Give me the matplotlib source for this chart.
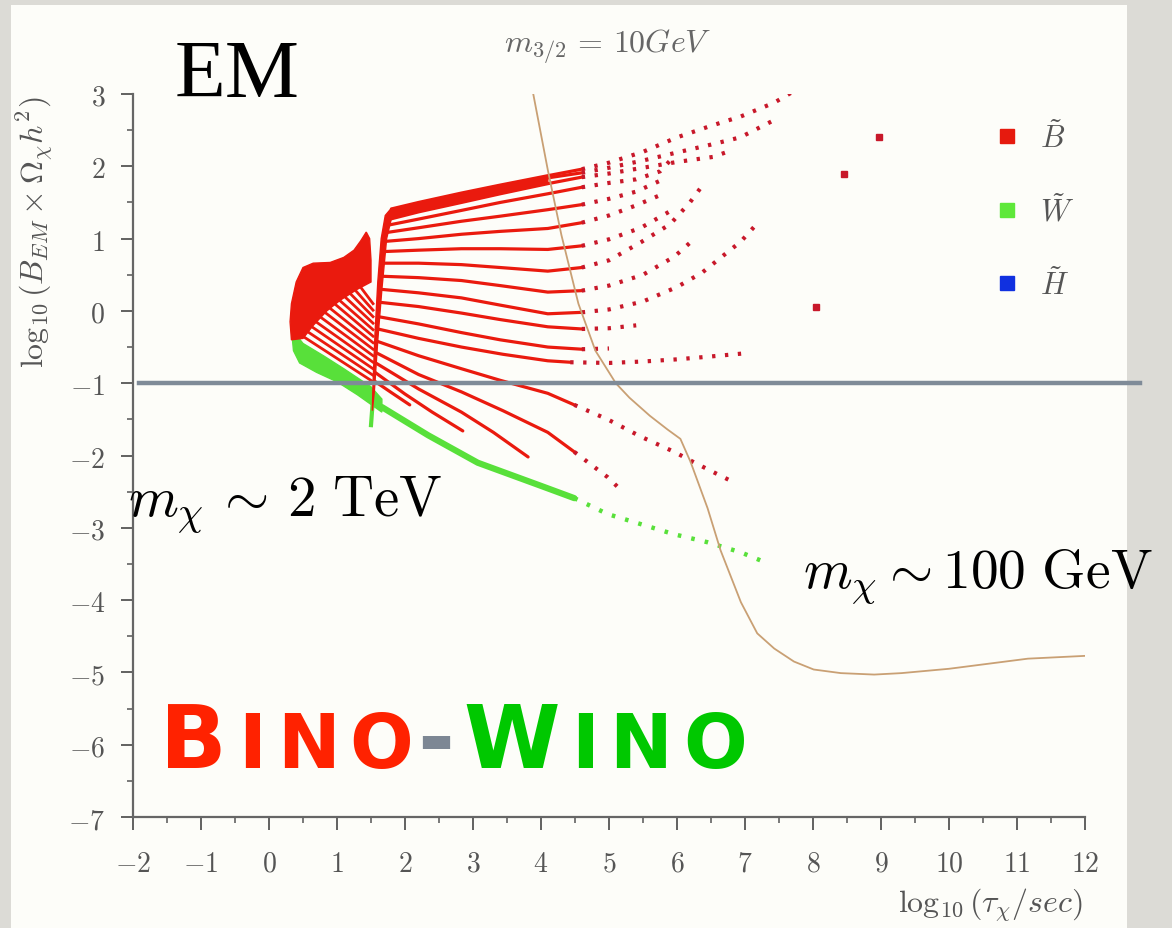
import numpy as np
import matplotlib.pyplot as plt
from matplotlib.patches import Rectangle, Polygon
from matplotlib.lines import Line2D

plt.rcParams['mathtext.fontset'] = 'cm'

# axis ticks
x_ticks = list(range(-2, 13))
y_ticks = list(range(-7, 4))
x_tick_labels = [r'$%d$' % v for v in x_ticks]
y_tick_labels = [r'$%d$' % v for v in y_ticks]

# BBN bound on the EM injection (brown curve)
bound_x = [3.88, 4.10, 4.30, 4.55, 4.80, 5.00, 5.10, 5.30, 5.60, 5.86, 6.05, 6.20, 6.45,
           6.64, 6.94, 7.18, 7.43, 7.72, 8.01, 8.41, 8.90, 9.30, 10.00, 11.16, 12.03]
bound_y = [3.03, 1.95, 1.05, 0.10, -0.55, -0.85, -1.00, -1.20, -1.45, -1.64, -1.77, -2.09, -2.73,
           -3.31, -4.03, -4.46, -4.67, -4.85, -4.96, -5.01, -5.03, -5.01, -4.95, -4.81, -4.77]

# bino-like region: low-lifetime blob and the spike at log tau ~ 1.6
blob_x = [0.33, 0.31, 0.33, 0.40, 0.50, 0.65, 0.90, 1.10, 1.25, 1.35, 1.43, 1.48, 1.50, 1.50,
          1.30, 1.05, 0.85, 0.65, 0.50]
blob_y = [-0.40, -0.15, 0.10, 0.40, 0.60, 0.66, 0.67, 0.74, 0.84, 0.97, 1.09, 1.00, 0.70, 0.40,
          0.30, 0.15, 0.00, -0.20, -0.38]
spike_x = [1.80, 1.71, 1.65, 1.60, 1.56, 1.53, 1.52, 1.55, 1.60, 1.66, 1.73, 1.82]
spike_y = [1.42, 1.32, 1.00, 0.40, -0.30, -1.00, -1.38, -1.10, -0.40, 0.30, 1.00, 1.36]

# bino tracks fanning out from the blob towards the spike
fan1_start_x = [1.25, 1.17, 1.10, 1.03, 0.96, 0.90, 0.84, 0.78, 0.72, 0.66, 0.60, 0.54, 0.48]
fan1_start_y = [0.45, 0.39, 0.33, 0.27, 0.21, 0.15, 0.08, 0.01, -0.06, -0.13, -0.20, -0.27, -0.34]
fan1_end_y = [0.10, 0.01, -0.08, -0.17, -0.26, -0.35, -0.44, -0.53, -0.62, -0.71, -0.80, -0.89, -0.98]

# bino tracks fanning out from the spike to long lifetimes
fan2_x = [
    [1.80, 2.20, 2.83, 3.40, 4.10, 4.60, 5.00, 5.50, 6.00, 6.50, 6.94, 7.43, 7.72],
    [1.77, 2.20, 2.83, 3.40, 4.10, 4.60, 5.00, 5.50, 6.04, 6.50, 6.93, 7.18, 7.41],
    [1.74, 2.20, 2.83, 3.40, 4.10, 4.60, 5.00, 5.50, 6.00, 6.53, 6.74],
    [1.72, 2.20, 2.83, 3.40, 4.10, 4.60, 5.00, 5.40, 5.75, 5.90],
    [1.70, 2.20, 2.83, 3.40, 4.10, 4.60, 5.00, 5.40, 5.75],
    [1.69, 2.20, 2.83, 3.40, 4.10, 4.60, 5.00, 5.40, 5.80],
    [1.67, 2.20, 2.83, 3.40, 4.10, 4.60, 5.00, 5.47, 5.90],
    [1.66, 2.20, 2.83, 3.40, 4.10, 4.60, 5.00, 5.47, 5.90, 6.19, 6.37],
    [1.64, 2.20, 2.83, 3.40, 4.10, 4.60, 5.00, 5.50, 5.96, 6.20],
    [1.63, 2.20, 2.83, 3.40, 4.10, 4.60, 5.00, 5.50, 6.00, 6.37, 6.74, 6.94, 7.18],
    [1.62, 2.20, 2.83, 3.40, 4.10, 4.60, 5.00, 5.40],
    [1.61, 2.20, 2.83, 3.40, 4.10, 4.60, 5.00],
    [1.60, 2.20, 2.83, 3.44, 4.10, 4.43, 5.00, 5.50, 6.00, 6.50, 6.96],
    [1.59, 2.20, 2.83, 3.40, 4.10, 4.49, 4.98, 5.47, 5.96, 6.20, 6.45, 6.79],
    [1.58, 2.20, 2.83, 3.44, 4.10, 4.49, 4.98, 5.21],
    [1.57, 2.20, 2.83, 3.30, 3.81],
    [1.56, 2.00, 2.40, 2.85],
    [1.55, 1.80, 2.07],
]
fan2_y = [
    [1.41, 1.50, 1.63, 1.74, 1.87, 1.96, 2.05, 2.20, 2.40, 2.56, 2.69, 2.88, 3.04],
    [1.34, 1.45, 1.58, 1.70, 1.84, 1.91, 1.98, 2.08, 2.20, 2.30, 2.40, 2.52, 2.63],
    [1.26, 1.37, 1.50, 1.62, 1.76, 1.85, 1.90, 1.98, 2.06, 2.13, 2.20],
    [1.18, 1.27, 1.39, 1.50, 1.62, 1.71, 1.77, 1.82, 1.93, 2.08],
    [1.08, 1.15, 1.24, 1.31, 1.40, 1.47, 1.55, 1.65, 1.80],
    [0.96, 1.00, 1.06, 1.10, 1.14, 1.22, 1.32, 1.46, 1.62],
    [0.82, 0.84, 0.86, 0.86, 0.85, 0.90, 0.99, 1.15, 1.38],
    [0.66, 0.66, 0.64, 0.60, 0.55, 0.60, 0.70, 0.95, 1.20, 1.50, 1.73],
    [0.48, 0.46, 0.42, 0.35, 0.26, 0.28, 0.35, 0.50, 0.75, 0.95],
    [0.30, 0.25, 0.18, 0.08, -0.04, -0.02, 0.02, 0.13, 0.33, 0.53, 0.81, 0.96, 1.21],
    [0.12, 0.06, -0.03, -0.12, -0.22, -0.25, -0.24, -0.20],
    [-0.08, -0.18, -0.30, -0.40, -0.50, -0.53, -0.52],
    [-0.25, -0.38, -0.50, -0.60, -0.69, -0.71, -0.72, -0.70, -0.67, -0.63, -0.59],
    [-0.42, -0.62, -0.80, -0.96, -1.14, -1.30, -1.50, -1.74, -1.95, -2.07, -2.19, -2.35],
    [-0.58, -0.88, -1.12, -1.38, -1.68, -1.95, -2.30, -2.51],
    [-0.72, -1.08, -1.40, -1.68, -2.02],
    [-0.85, -1.15, -1.40, -1.66],
    [-0.97, -1.13, -1.30],
]

# isolated bino points at very long lifetimes
far_x = [8.05, 8.46, 8.97]
far_y = [0.05, 1.90, 2.40]

# wino-like band
wino_x = [1.66, 2.34, 3.07, 4.00, 4.49, 4.98, 5.47, 5.96, 6.45, 6.94, 7.33]
wino_y = [-1.33, -1.72, -2.10, -2.42, -2.59, -2.81, -2.95, -3.09, -3.20, -3.34, -3.49]
wino_band_x = [0.33, 0.50, 0.80, 1.10, 1.50, 1.66, 1.66, 1.30, 1.00, 0.70, 0.45, 0.36]
wino_band_y = [-0.25, -0.45, -0.62, -0.80, -1.05, -1.22, -1.40, -1.16, -0.98, -0.85, -0.72, -0.55]
wino_spike_x = [1.53, 1.50]
wino_spike_y = [-1.20, -1.58]

legend_labels = [r'$\tilde{B}$', r'$\tilde{W}$', r'$\tilde{H}$']
legend_colors = ['#e61a0e', '#5ee83a', '#1030e0']

RED = '#ea1a0e'
DOT_RED = '#c8182a'
GREEN = '#58e03a'
GRAY_TXT = '#555555'
SPLIT_X = 4.6
DOTS = (0, (0.8, 2.3))

fig = plt.figure(figsize=(11.72, 9.29), dpi=100, facecolor='#dcdbd6')
# slide panel behind the plot
fig.patches.append(Rectangle((11 / 1172, 0), (1127 - 11) / 1172, (929 - 6) / 929,
                             transform=fig.transFigure, facecolor='#fdfdf9',
                             edgecolor='none', zorder=-10))

ax = fig.add_axes([133 / 1172, 1 - 818 / 929, 952 / 1172, 723 / 929])
ax.set_facecolor('none')
ax.set_xlim(-2, 12)
ax.set_ylim(-7, 3)

# filled bino regions
for px, py in [(blob_x, blob_y), (spike_x, spike_y)]:
    ax.add_patch(Polygon(np.column_stack([px, py]), closed=True, facecolor=RED,
                         edgecolor=RED, lw=1, zorder=3))

# dense top of the spike fan: between the first and third track
top = np.array(fan2_x[0][:5]), np.array(fan2_y[0][:5])
low = np.array(fan2_x[2][:5]), np.array(fan2_y[2][:5])
wedge = np.column_stack([np.r_[top[0], low[0][::-1]], np.r_[top[1], low[1][::-1]]])
ax.add_patch(Polygon(wedge, closed=True, facecolor=RED, edgecolor=RED, lw=1, zorder=3))

for x0, y0, y1 in zip(fan1_start_x, fan1_start_y, fan1_end_y):
    ax.plot([x0, 1.53], [y0, y1], color=RED, lw=2.0, zorder=3)

# dense part of each track is solid, the sparse tail is dotted
for xs, ys in zip(fan2_x, fan2_y):
    xs = np.array(xs)
    ys = np.array(ys)
    k = np.where(xs <= SPLIT_X)[0][-1]
    ax.plot(xs[:k + 1], ys[:k + 1], color=RED, lw=2.3, zorder=3, solid_capstyle='round',
            solid_joinstyle='round')
    if k < len(xs) - 1:
        ax.plot(xs[k:], ys[k:], color=DOT_RED, lw=3.0, ls=DOTS, zorder=3)

ax.plot(far_x, far_y, ls='none', marker='s', ms=4.5, color=DOT_RED, zorder=3)

# wino band
ax.add_patch(Polygon(np.column_stack([wino_band_x, wino_band_y]), closed=True,
                     facecolor=GREEN, edgecolor=GREEN, lw=1, zorder=2))
wx = np.array(wino_x)
wy = np.array(wino_y)
k = np.where(wx <= 4.49)[0][-1]
ax.plot(wx[:k + 1], wy[:k + 1], color=GREEN, lw=4.5, zorder=2, solid_capstyle='round',
        solid_joinstyle='round')
ax.plot(wx[k:], wy[k:], color=GREEN, lw=3.2, ls=DOTS, zorder=2)
ax.plot(wino_spike_x, wino_spike_y, color=GREEN, lw=3, zorder=2)

ax.plot(bound_x, bound_y, color='#c9a074', lw=1.3, zorder=4)

# omega h^2 = 0.1 reference line
ax.axhline(-1, xmin=0.006, xmax=1.058, color='#7f8b98', lw=3.2, clip_on=False, zorder=5)

# axes styling
for s in ['top', 'right']:
    ax.spines[s].set_visible(False)
for s in ['left', 'bottom']:
    ax.spines[s].set_color('#666666')
    ax.spines[s].set_linewidth(1.6)
ax.set_xticks(x_ticks)
ax.set_xticklabels(x_tick_labels)
ax.set_yticks(y_ticks)
ax.set_yticklabels(y_tick_labels)
ax.set_xticks(np.arange(-2, 12.01, 0.5), minor=True)
ax.set_yticks(np.arange(-7, 3.01, 0.5), minor=True)
ax.tick_params(which='major', direction='out', length=9, width=1.3, color='#555555',
               labelsize=20, labelcolor=GRAY_TXT)
ax.tick_params(which='minor', direction='out', length=4.5, width=1.1, color='#555555')
ax.tick_params(axis='x', which='major', pad=14)
ax.tick_params(axis='y', which='major', pad=11)

handles = [Line2D([], [], ls='none', marker='s', ms=10, color=c) for c in legend_colors]
leg = ax.legend(handles, legend_labels, loc='upper left', bbox_to_anchor=(0.889, 0.985),
                frameon=False, fontsize=22, handlelength=0.8, handletextpad=0.7,
                labelspacing=1.33, borderpad=0)
for t in leg.get_texts():
    t.set_color(GRAY_TXT)

# labels and annotations
fig.text(608 / 1172, 1 - 53 / 929, r'$m_{3/2}\, =\, 10GeV$', ha='center', va='baseline',
         fontsize=23, color='#666666')
fig.text(35 / 1172, 1 - 232 / 929, r'$\log_{10}(B_{EM}\times\Omega_\chi h^2)$', rotation=90,
         ha='center', va='center', fontsize=23, color=GRAY_TXT)
fig.text(990 / 1172, 1 - 905 / 929, r'$\log_{10}(\tau_\chi/sec)$', ha='center', va='center',
         fontsize=23, color=GRAY_TXT)

fig.text(175 / 1172, 1 - 97 / 929, 'EM', family='Liberation Serif', fontsize=60,
         color='black', va='baseline')
fig.text(128 / 1172, 1 - 516 / 929, r'$m_\chi\,\sim\,2\ \mathrm{TeV}$', fontsize=41,
         color='black', va='baseline')
fig.text(803 / 1172, 1 - 588 / 929, r'$m_\chi \sim 100\ \mathrm{GeV}$', fontsize=40,
         color='black', va='baseline')

# "Bino-Wino" in small caps, letters centred on their slots
caps = [('B', 193, 63, '#ff2200'), ('I', 252, 54, '#ff2200'), ('N', 309, 54, '#ff2200'),
        ('O', 381, 54, '#ff2200'), ('-', 436, 64, '#7d8794'),
        ('W', 512, 63, '#00c800'), ('I', 585, 54, '#00c800'), ('N', 641, 54, '#00c800'),
        ('O', 715, 54, '#00c800')]
for ch, px, size, col in caps:
    fig.text(px / 1172, 1 - 768 / 929, ch, family='DejaVu Sans', weight='bold', fontsize=size,
             color=col, va='baseline', ha='center')

fig.savefig('out.png', dpi=100, facecolor=fig.get_facecolor())
